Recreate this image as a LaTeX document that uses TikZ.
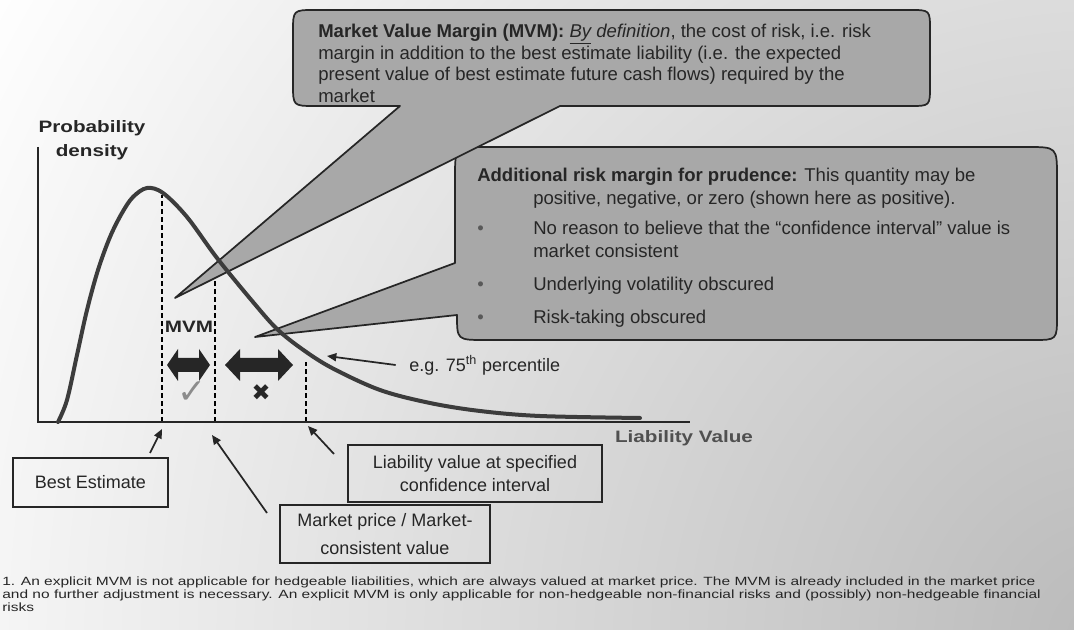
\documentclass[tikz,border=0pt]{standalone}
\usepackage{fontspec}
\setmainfont{Liberation Sans}
\newfontfamily\widebold[FakeStretch=1.25]{Liberation Sans}
\newfontfamily\notefont[FakeStretch=1.3]{Liberation Sans}
\newfontfamily\symfont{DejaVu Sans}
\usetikzlibrary{arrows.meta}

\definecolor{ink}{HTML}{262626}
\definecolor{calloutfill}{HTML}{A8A8A8}
\definecolor{curvecol}{HTML}{3C3C3C}
\definecolor{labelgray}{HTML}{505050}

\tikzset{
  axisline/.style={draw=ink, line width=1.5pt},
  pdfcurve/.style={draw=curvecol, line width=3pt, line cap=round},
  guide/.style={draw=black, line width=1.1pt, dash pattern=on 3.5pt off 2.5pt},
  callout/.style={fill=calloutfill, draw=ink, line width=1.3pt, line join=round},
  labelbox/.style={draw=ink, line width=1.5pt, inner sep=0pt, align=center,
    font=\fontsize{13.5pt}{17.25pt}\selectfont, text=ink},
  ptr/.style={draw=ink, line width=1.3pt, -{Triangle[length=7pt,width=6pt]}},
  blockarrow/.style={fill=ink, draw=none},
  calltext/.style={anchor=north west, inner sep=0pt, align=left, text=ink},
}
\newcommand{\calloutbullet}{\makebox[42pt][l]{\hspace{0pt}\textcolor{black!65}{\textbullet}}}

\begin{document}
\begin{tikzpicture}[x=0.75pt, y=-0.75pt]
\useasboundingbox (0,0) rectangle (1074,630);

% scanned-paper tone, darker towards the lower right
\begin{scope}
  \clip (0,0) rectangle (1074,630);
  \fill[white] (0,0) rectangle (1074,630);
  \shade[inner color=black!27, outer color=white] (1110,640) circle (1300);
\end{scope}

% reference values on the liability axis
\coordinate (beX) at (162,422);
\coordinate (mpX) at (215,422);
\coordinate (ciX) at (306,422);
\draw[guide] (beX) -- (162,195);
\draw[guide] (mpX) -- (215,277);
\draw[guide] (ciX) -- (306,362);

% callout: additional risk margin
\path[callout] (455,263) -- (455,177) .. controls (455,147) .. (487,147)
  -- (1027,147) .. controls (1057,147) .. (1057,177)
  -- (1057,316) .. controls (1057,340) .. (1033,340)
  -- (485,340) .. controls (457,340) .. (457,315)
  -- (255,337) -- cycle;

% callout: market value margin
\path[callout] (400,106) -- (175,298) -- (560,106)
  -- (910,106) .. controls (930,106) .. (930,86)
  -- (930,30) .. controls (930,10) .. (910,10)
  -- (315,10) .. controls (293,10) .. (293,32)
  -- (293,84) .. controls (293,106) .. (315,106) -- cycle;

\node[calltext, font=\fontsize{13.9pt}{16.1pt}\selectfont] (mvmtext) at (318,24)
  {\textbf{Market Value Margin (MVM):} \textit{\underline{By} definition}, the cost of risk, i.e. risk\\
   margin in addition to the best estimate liability (i.e. the expected\\
   present value of best estimate future cash flows) required by the\\
   market};

\node[calltext, font=\fontsize{13.9pt}{17.25pt}\selectfont] (armtext) at (477,168)
  {\textbf{Additional risk margin for prudence:} This quantity may be\\
   \hspace*{42pt}positive, negative, or zero (shown here as positive).\\[5pt]
   \calloutbullet No reason to believe that the “confidence interval” value is\\
   \hspace*{42pt}market consistent\\[7.5pt]
   \calloutbullet Underlying volatility obscured\\[7.5pt]
   \calloutbullet Risk-taking obscured};

% axes
\coordinate (origin) at (38,422);
\coordinate (ytop) at (38,147);
\coordinate (xend) at (690,422);
\draw[axisline] (ytop) -- (origin) -- (xend);

% probability density of the liability value
\draw[pdfcurve] plot[smooth, tension=0.55] coordinates {
  (58,422) (67,400) (77,355) (87,310) (98,270) (110,237) (122,213) (133,197)
  (147,188) (163,193) (187,217) (217,258) (253,302) (277,329) (302,349)
  (332,368) (380,390) (430,403) (480,411) (540,416) (640,418)};

% axis titles
\node[font=\widebold\bfseries\fontsize{12.4pt}{18pt}\selectfont, align=center, text=ink, inner sep=0pt]
  (ylabel) at (92,140) {Probability\\density};
\node[font=\widebold\bfseries\fontsize{12.4pt}{15pt}\selectfont, text=labelgray, inner sep=0pt]
  (xlabel) at (684,438) {Liability Value};

% MVM band and the excess margin
\node[font=\widebold\bfseries\fontsize{12.4pt}{15pt}\selectfont, text=ink, inner sep=0pt]
  (mvmlabel) at (189,327) {MVM};
\path[blockarrow] (167,365) -- (178,349) -- (178,358) -- (199,358) -- (199,349) -- (210,365)
  -- (199,381) -- (199,372) -- (178,372) -- (178,381) -- cycle;
\path[blockarrow] (225,365) -- (240,349) -- (240,358) -- (278,358) -- (278,349) -- (293,365)
  -- (278,381) -- (278,372) -- (240,372) -- (240,381) -- cycle;
\node[font=\symfont\fontsize{26pt}{26pt}\selectfont, text=black!45, inner sep=0pt]
  (okmark) at (192,393) {✓};
\node[font=\symfont\fontsize{17pt}{17pt}\selectfont, text=ink, inner sep=0pt]
  (nomark) at (261,393) {✖};

% percentile note
\node[anchor=west, inner sep=0pt, font=\fontsize{13.5pt}{15pt}\selectfont, text=ink]
  (pct) at (409,365) {e.g. 75\textsuperscript{th} percentile};
\coordinate (pctTip) at (327,356);
\draw[ptr] ([xshift=-10]pct.west) -- (pctTip);

% labelled points on the axis
\node[labelbox, minimum width=155*0.75pt, minimum height=49*0.75pt]
  (be) at (90.5,482.5) {Best Estimate};
\node[labelbox, minimum width=254*0.75pt, minimum height=57*0.75pt]
  (lv) at (475,473.5) {Liability value at specified\\confidence interval};
\node[labelbox, minimum width=210*0.75pt, minimum height=58*0.75pt,
  font=\fontsize{13.5pt}{21pt}\selectfont]
  (mp) at (385,534) {Market price / Market-\\consistent value};

\coordinate (beTip) at (162,429);
\coordinate (mpTip) at (212,435);
\coordinate (lvTip) at (308,426);
\draw[ptr] ([shift={(59.5,-4)}]be.north) -- (beTip);
\draw[ptr] ([shift={(-12,9)}]mp.north west) -- (mpTip);
\draw[ptr] ([shift={(-13,10)}]lv.north west) -- (lvTip);

% footnote
\node[anchor=north west, inner sep=0pt, align=left, text=ink,
  font=\notefont\fontsize{8.95pt}{9.75pt}\selectfont] (note) at (2,577)
  {1. An explicit MVM is not applicable for hedgeable liabilities, which are always valued at market price.  The MVM is already included in the market price\\
   and no further adjustment is necessary.  An explicit MVM is only applicable for non-hedgeable non-financial risks and (possibly) non-hedgeable financial\\
   risks};
\end{tikzpicture}
\end{document}
